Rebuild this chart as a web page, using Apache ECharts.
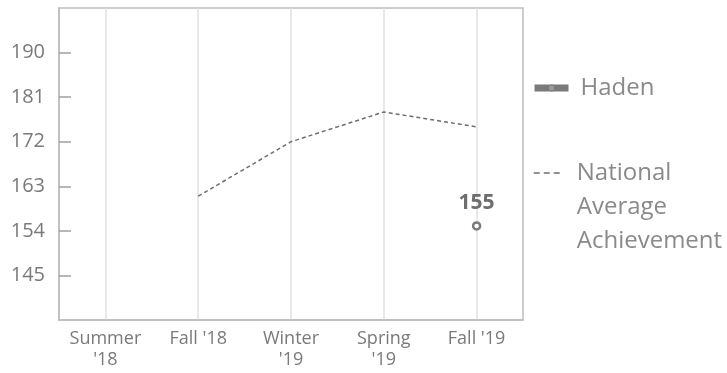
<!DOCTYPE html>
<html>
<head>
<meta charset="utf-8">
<script src="https://cdn.jsdelivr.net/npm/echarts@6/dist/echarts.min.js"></script>
<style>
  html, body { margin: 0; padding: 0; background: #fff; }
  #chart { width: 727px; height: 373px; }
</style>
</head>
<body>
<div id="chart"></div>
<script>
// terms on the x axis
const terms = ['Summer\n\'18', 'Fall \'18', 'Winter\n\'19', 'Spring\n\'19', 'Fall \'19'];
// student scores (only the last term has one)
const hadenScores = [null, null, null, null, 155];
// national average
const nationalAvg = [null, 161, 172, 178, 175];

const yMin = 136;
const yMax = 199;
const yStep = 9;

const chart = echarts.init(document.getElementById('chart'));

const option = {
  animation: false,
  textStyle: { fontFamily: 'Open Sans' },
  grid: {
    left: 59, right: 204, top: 8, bottom: 53,
    show: true,
    borderColor: '#bdbdbd',
    borderWidth: 1.5
  },
  legend: [
    {
      left: 531,
      top: 71,
      padding: 0,
      itemWidth: 34,
      itemHeight: 8,
      textStyle: { fontSize: 24, color: '#8a8a8a', lineHeight: 34, padding: [0, 0, 0, 7] },
      data: [{
        name: 'Haden',
        lineStyle: { width: 7, color: '#7a7a7a' },
        itemStyle: { color: '#9a9a9a', borderColor: '#7a7a7a', borderWidth: 1 }
      }]
    },
    {
      left: 533,
      top: 88,
      padding: 0,
      itemWidth: 30,
      itemHeight: 8,
      textStyle: { fontSize: 24, color: '#8a8a8a', lineHeight: 34, padding: [0, 0, 0, 8] },
      formatter: function () {
        // blank lines on top so the first line sits level with the icon
        return '\n\nNational\nAverage\nAchievement';
      },
      data: [{
        name: 'National Average Achievement',
        lineStyle: { width: 1.5, type: [6, 4], color: '#6e6e6e' },
        itemStyle: { opacity: 0 }
      }]
    }
  ],
  xAxis: {
    type: 'category',
    data: terms,
    boundaryGap: true,
    axisLine: { show: true, lineStyle: { color: '#bdbdbd', width: 1.5 } },
    axisTick: { show: false },
    axisLabel: { interval: 0, color: '#7a7a7a', fontSize: 18, lineHeight: 21, margin: 8 },
    splitLine: { show: true, interval: 0, alignWithLabel: true, lineStyle: { color: '#e0e0e0', width: 1.5 } }
  },
  yAxis: {
    type: 'value',
    min: yMin,
    max: yMax,
    interval: yStep,
    axisLine: { show: true, lineStyle: { color: '#bdbdbd', width: 1.5 } },
    axisTick: { show: true, inside: true, length: 12, lineStyle: { color: '#a0a0a0', width: 1.5 } },
    axisLabel: { color: '#7a7a7a', fontSize: 20, margin: 14, showMinLabel: false, showMaxLabel: false },
    splitLine: { show: false }
  },
  series: [
    {
      name: 'Haden',
      type: 'line',
      data: hadenScores,
      symbol: 'circle',
      symbolSize: 7,
      color: '#7a7a7a',
      lineStyle: { width: 6, color: '#7a7a7a' },
      itemStyle: { color: '#fff', borderColor: '#7a7a7a', borderWidth: 2.5 },
      label: {
        show: true,
        position: 'top',
        distance: 8,
        color: '#6e6e6e',
        fontSize: 21,
        fontWeight: 'bold'
      }
    },
    {
      name: 'National Average Achievement',
      type: 'line',
      data: nationalAvg,
      symbol: 'none',
      color: '#6e6e6e',
      lineStyle: { width: 1.5, type: [4, 3], color: '#6e6e6e' }
    }
  ]
};

chart.setOption(option);
</script>
</body>
</html>
